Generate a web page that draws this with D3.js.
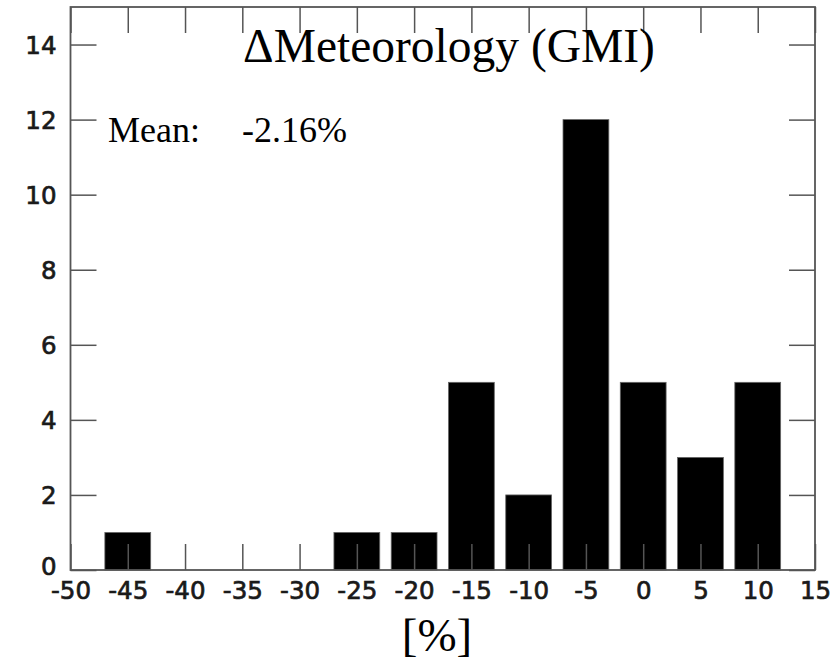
<!DOCTYPE html>
<html>
<head>
<meta charset="utf-8">
<script src="https://cdn.jsdelivr.net/npm/d3@7"></script>
<style>
  body { margin: 0; background: #fff; }
  svg { display: block; }
</style>
</head>
<body>
<svg id="chart" width="839" height="665"></svg>
<script>
// Data
const binCenters = [-45, -25, -20, -15, -10, -5, 0, 5, 10];
const counts = [1, 1, 1, 5, 2, 12, 5, 3, 5];
const binWidth = 4;
const xTicks = [-50, -45, -40, -35, -30, -25, -20, -15, -10, -5, 0, 5, 10, 15];
const yTicks = [0, 2, 4, 6, 8, 10, 12, 14];
const titleText = "\u0394Meteorology (GMI)";
const meanLabel = "Mean:";
const meanValue = "-2.16%";
const xLabel = "[%]";

const svg = d3.select("#chart");
const m = { left: 70.5, right: 815, top: 7, bottom: 570 };

const x = d3.scaleLinear().domain([-50, 15]).range([m.left, m.right]);
const y = d3.scaleLinear().domain([0, 15]).range([m.bottom, m.top]);

const frameColor = "#555";
const tickLen = 26;
const fmt = d => String(d);

// Bars
svg.append("g").selectAll("rect")
  .data(binCenters.map((c, i) => ({ c, v: counts[i] })))
  .join("rect")
  .attr("x", d => x(d.c - binWidth / 2))
  .attr("width", d => x(d.c + binWidth / 2) - x(d.c - binWidth / 2))
  .attr("y", d => y(d.v))
  .attr("height", d => y(0) - y(d.v))
  .attr("fill", "#000")
  .attr("stroke", "#666")
  .attr("stroke-width", 0.8);

// Axes (inward ticks) with labels
const tickFont = "'DejaVu Sans', sans-serif";

const xAxisB = d3.axisBottom(x).tickValues(xTicks).tickSize(-tickLen).tickFormat(fmt);
const gxb = svg.append("g").attr("transform", `translate(0,${m.bottom})`).call(xAxisB);
gxb.select(".domain").remove();
gxb.selectAll(".tick line").attr("stroke", frameColor).attr("stroke-width", 1.5);
gxb.selectAll(".tick text").attr("font-family", tickFont).attr("font-size", 24.5).attr("fill", "#1a1a1a")
  .attr("stroke", "#1a1a1a").attr("stroke-width", 0.7)
  .attr("y", 29).attr("dy", 0);

const xAxisT = d3.axisTop(x).tickValues(xTicks).tickSize(-tickLen).tickFormat("");
const gxt = svg.append("g").attr("transform", `translate(0,${m.top})`).call(xAxisT);
gxt.select(".domain").remove();
gxt.selectAll(".tick line").attr("stroke", frameColor).attr("stroke-width", 1.5);

const yAxisL = d3.axisLeft(y).tickValues(yTicks).tickSize(-tickLen).tickFormat(fmt);
const gyl = svg.append("g").attr("transform", `translate(${m.left},0)`).call(yAxisL);
gyl.select(".domain").remove();
gyl.selectAll(".tick line").attr("stroke", frameColor).attr("stroke-width", 1.5);
gyl.selectAll(".tick text").attr("font-family", tickFont).attr("font-size", 24.5).attr("fill", "#1a1a1a")
  .attr("stroke", "#1a1a1a").attr("stroke-width", 0.7)
  .attr("x", -14).attr("dy", "0.36em");
gyl.selectAll(".tick text").filter(d => d === 0).attr("dy", "0.2em");

const yAxisR = d3.axisRight(y).tickValues(yTicks).tickSize(-tickLen).tickFormat("");
const gyr = svg.append("g").attr("transform", `translate(${m.right},0)`).call(yAxisR);
gyr.select(".domain").remove();
gyr.selectAll(".tick line").attr("stroke", frameColor).attr("stroke-width", 1.5);

// Frame
svg.append("rect")
  .attr("x", m.left).attr("y", m.top)
  .attr("width", m.right - m.left).attr("height", m.bottom - m.top)
  .attr("fill", "none").attr("stroke", frameColor).attr("stroke-width", 1.8);

// Texts
const serif = "'Liberation Serif', 'Times New Roman', serif";
svg.append("text").attr("x", 449).attr("y", 62).attr("text-anchor", "middle")
  .attr("font-family", serif).attr("font-size", 47.5).attr("fill", "#000").text(titleText);

svg.append("text").attr("x", 108).attr("y", 142)
  .attr("font-family", serif).attr("font-size", 36).attr("fill", "#000").text(meanLabel);
svg.append("text").attr("x", 242).attr("y", 142)
  .attr("font-family", serif).attr("font-size", 36).attr("fill", "#000").text(meanValue);

svg.append("text").attr("x", 437).attr("y", 651).attr("text-anchor", "middle")
  .attr("font-family", serif).attr("font-size", 47).attr("fill", "#000").text(xLabel);
</script>
</body>
</html>
